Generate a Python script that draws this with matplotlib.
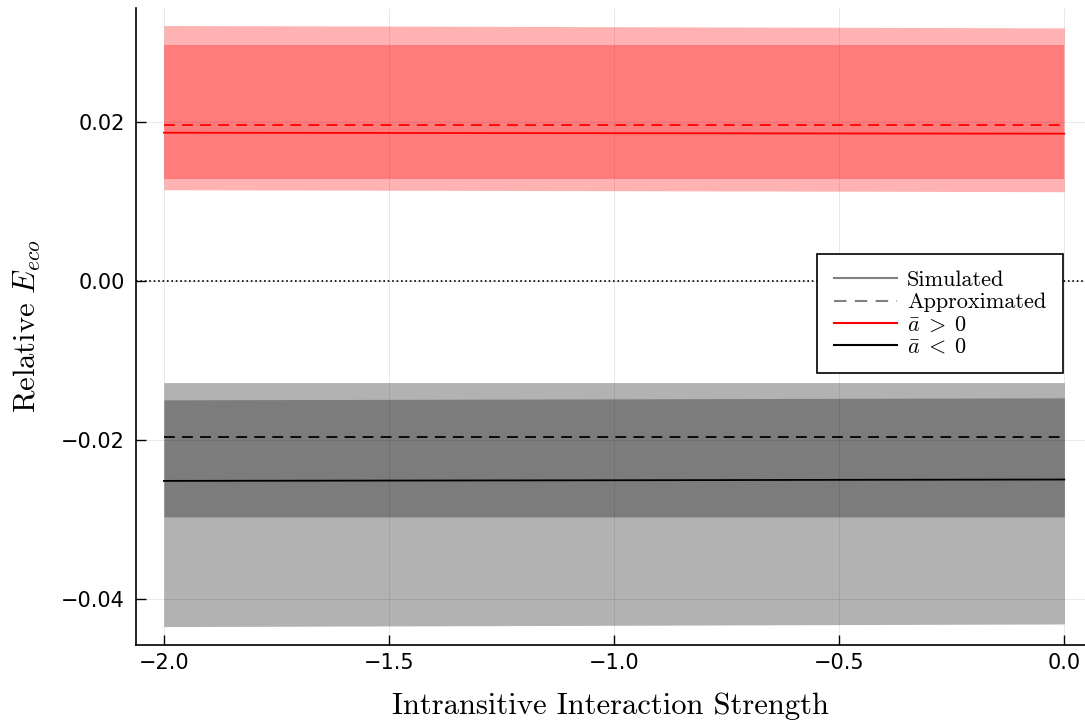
import numpy as np
import matplotlib
matplotlib.use("Agg")
import matplotlib.pyplot as plt
from matplotlib.lines import Line2D

plt.rcParams['mathtext.fontset'] = 'cm'

# intransitive interaction strength
x = [-2.0, -1.5, -1.0, -0.5, 0.0]

# a_bar > 0 (red)
pos_sim = [0.01862, 0.01859, 0.01856, 0.01853, 0.0185]
pos_approx = [0.0196, 0.0196, 0.0196, 0.0196, 0.0196]
pos_outer_lo = [0.01145, 0.01139, 0.01133, 0.01127, 0.0112]
pos_outer_hi = [0.0321, 0.03203, 0.03195, 0.03188, 0.0318]
pos_inner_lo = [0.01283, 0.01283, 0.01283, 0.01283, 0.01283]
pos_inner_hi = [0.0297, 0.0297, 0.0297, 0.0297, 0.0297]

# a_bar < 0 (black)
neg_sim = [-0.02516, -0.02512, -0.02508, -0.02503, -0.02499]
neg_approx = [-0.01962, -0.01962, -0.01962, -0.01962, -0.01962]
neg_outer_lo = [-0.04348, -0.0434, -0.04332, -0.04323, -0.04315]
neg_outer_hi = [-0.0128, -0.0128, -0.0128, -0.0128, -0.0128]
neg_inner_lo = [-0.02969, -0.02969, -0.02969, -0.02969, -0.02969]
neg_inner_hi = [-0.01497, -0.01491, -0.01485, -0.01478, -0.01472]

fig = plt.figure(figsize=(10.85, 7.22), dpi=100)
ax = fig.add_axes([0.1253, 0.1066, 0.8747, 0.8823])

ax.fill_between(x, pos_outer_lo, pos_outer_hi, color='red', alpha=0.3, lw=0)
ax.fill_between(x, pos_inner_lo, pos_inner_hi, color='red', alpha=0.3, lw=0)
ax.fill_between(x, neg_outer_lo, neg_outer_hi, color='black', alpha=0.3, lw=0)
ax.fill_between(x, neg_inner_lo, neg_inner_hi, color='black', alpha=0.3, lw=0)

ax.plot(x, pos_sim, color='red', lw=1.3)
ax.plot(x, pos_approx, color='red', lw=1.3, ls=(0, (6, 4)))
ax.plot(x, neg_sim, color='black', lw=1.3)
ax.plot(x, neg_approx, color='black', lw=1.3, ls=(0, (6, 4)))
ax.axhline(0, color='black', lw=1.2, ls=':')

ax.set_xlim(-2.062, 0.046)
ax.set_ylim(-0.0458, 0.0343)
ax.set_xticks([-2.0, -1.5, -1.0, -0.5, 0.0])
ax.set_xticklabels(['\u22122.0', '\u22121.5', '\u22121.0', '\u22120.5', '0.0'])
ax.set_yticks([-0.04, -0.02, 0.0, 0.02])
ax.set_yticklabels(['\u22120.04', '\u22120.02', '0.00', '0.02'])
ax.grid(True, color='black', alpha=0.1, lw=0.6)
ax.set_axisbelow(True)
ax.tick_params(direction='in', length=7, width=1, labelsize=15, pad=8)
ax.tick_params(axis='x', pad=6)
for s in ['top', 'right']:
    ax.spines[s].set_visible(False)
for s in ['left', 'bottom']:
    ax.spines[s].set_linewidth(1.2)

ax.set_xlabel('Intransitive Interaction Strength', fontsize=22, family='cmr10', labelpad=14)
ax.set_ylabel(r'Relative $E_{eco}$', fontsize=22, family='cmr10', labelpad=13)

handles = [
    Line2D([], [], color='gray', lw=1.5),
    Line2D([], [], color='gray', lw=1.5, ls=(0, (6, 4))),
    Line2D([], [], color='red', lw=1.5),
    Line2D([], [], color='black', lw=1.5),
]
labels = ['Simulated', 'Approximated', r'$\bar{a}\;>\;0$', r'$\bar{a}\;<\;0$']
leg = ax.legend(handles, labels, loc='upper left', bbox_to_anchor=(0.7176, 0.614),
                borderaxespad=0, prop={'family': 'cmr10', 'size': 16},
                handlelength=2.85, fancybox=False, framealpha=1, edgecolor='black',
                borderpad=0.75, labelspacing=0.12, handletextpad=0.45)
leg.get_frame().set_linewidth(1.2)

fig.savefig('out.png', dpi=100)
